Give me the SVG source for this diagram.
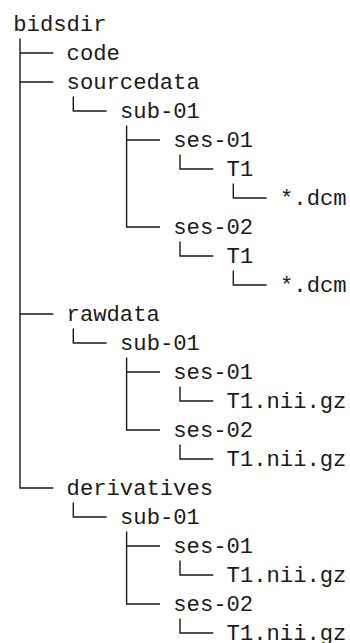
<svg xmlns="http://www.w3.org/2000/svg" width="350" height="643" viewBox="0 0 350 643">
<style>
text{font-family:"Liberation Mono","DejaVu Sans Mono",monospace;font-size:22.2px;fill:#1a1a1a}
.c{fill:none;stroke:#1a1a1a;stroke-width:1.4}
</style>
<rect width="350" height="643" fill="#fff"/>
<g id="connectors" class="c">
<path d="M20,38.5V488H53.3M20,53H53.3M20,82H53.3M20,314H53.3"/>
<path d="M73.3,96.5V111H106.6M73.3,328.5V343H106.6M73.3,502.5V517H106.6"/>
<path d="M126.6,125.5V227H160M126.6,140H160M126.6,357.5V430H160M126.6,372H160M126.6,531.5V604H160M126.6,546H160"/>
<path d="M180,154.5V169H213.3M180,241.5V256H213.3M180,386.5V401H213.3M180,444.5V459H213.3M180,560.5V575H213.3M180,618.5V633H213.3"/>
<path d="M233.3,183.5V198H266.6M233.3,270.5V285H266.6"/>
</g>
<g id="bidsdir"><text x="13.3" y="31">bidsdir</text></g>
<g id="code"><text x="66.6" y="60">code</text></g>
<g id="sourcedata"><text x="66.6" y="89">sourcedata</text></g>
<g id="src-sub-01"><text x="120" y="118">sub-01</text></g>
<g id="src-ses-01"><text x="173.3" y="147">ses-01</text></g>
<g id="src-ses-01-T1"><text x="226.6" y="176">T1</text></g>
<g id="src-ses-01-dcm"><text x="280" y="205">*.dcm</text></g>
<g id="src-ses-02"><text x="173.3" y="234">ses-02</text></g>
<g id="src-ses-02-T1"><text x="226.6" y="263">T1</text></g>
<g id="src-ses-02-dcm"><text x="280" y="292">*.dcm</text></g>
<g id="rawdata"><text x="66.6" y="321">rawdata</text></g>
<g id="raw-sub-01"><text x="120" y="350">sub-01</text></g>
<g id="raw-ses-01"><text x="173.3" y="379">ses-01</text></g>
<g id="raw-ses-01-T1"><text x="226.6" y="408">T1.nii.gz</text></g>
<g id="raw-ses-02"><text x="173.3" y="437">ses-02</text></g>
<g id="raw-ses-02-T1"><text x="226.6" y="466">T1.nii.gz</text></g>
<g id="derivatives"><text x="66.6" y="495">derivatives</text></g>
<g id="der-sub-01"><text x="120" y="524">sub-01</text></g>
<g id="der-ses-01"><text x="173.3" y="553">ses-01</text></g>
<g id="der-ses-01-T1"><text x="226.6" y="582">T1.nii.gz</text></g>
<g id="der-ses-02"><text x="173.3" y="611">ses-02</text></g>
<g id="der-ses-02-T1"><text x="226.6" y="640">T1.nii.gz</text></g>
</svg>
